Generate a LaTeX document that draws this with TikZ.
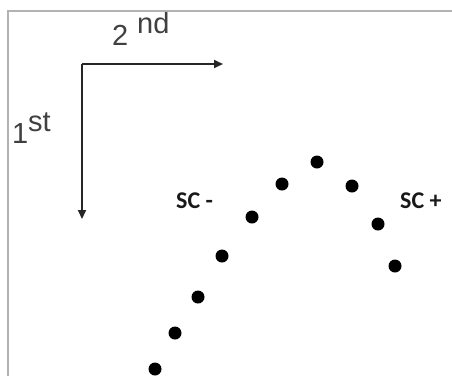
\documentclass[tikz,border=0pt]{standalone}
\usepackage{fontspec}
\setmainfont{Liberation Sans}
\newfontfamily\scfont{Carlito}
\usetikzlibrary{arrows.meta}
\begin{document}
\begin{tikzpicture}[x=1pt,y=-1pt,
  frameline/.style={draw=black!30,line width=2pt},
  axis/.style={draw=black!85,line width=1.8pt,-{Triangle[length=9pt,width=8pt]}},
  dot/.style={circle,fill=black,inner sep=0pt,minimum size=13pt},
  lbl/.style={inner sep=0pt,anchor=base west,font=\fontsize{29}{31}\selectfont,text=black!75},
  sclbl/.style={inner sep=0pt,anchor=base west,font=\scfont\bfseries\fontsize{24}{26}\selectfont,text=black!90}]
  \useasboundingbox (0,0) rectangle (452,376);
  % outer frame (left and top edges visible)
  \draw[frameline] (8,376) -- (8,11) -- (452,11);
  % axes
  \coordinate (o) at (82,64);
  \coordinate (xt) at (223,64);
  \coordinate (yt) at (82,219);
  \draw[axis] (o) -- (xt);
  \draw[axis] (o) -- (yt);
  % axis labels
  \node[lbl] (two) at (112,45) {2};
  \node[lbl] (nd) at (137,33) {nd};
  \node[lbl] (one) at (12,143) {1};
  \node[lbl] (st) at (28,131) {st};
  % sign labels
  \node[sclbl] (scm) at (176,208) {SC -};
  \node[sclbl] (scp) at (400,208) {SC +};
  % data points
  \foreach \n/\px/\py in {a/155/369,b/175/333,c/198/297,d/222/256,e/252/217,
                          f/282/184,g/317/162,h/352/186,i/378/224,j/395/266}
    \node[dot] (\n) at (\px,\py) {};
\end{tikzpicture}
\end{document}
